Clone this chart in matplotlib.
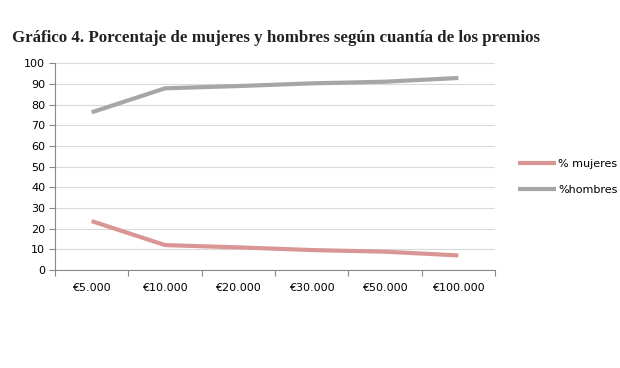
import numpy as np
import matplotlib.pyplot as plt

# datos del gráfico
categorias = ['€5.000', '€10.000', '€20.000', '€30.000', '€50.000', '€100.000']
mujeres = [23.7, 12.1, 11.0, 9.7, 8.9, 7.1]
hombres = [76.3, 87.9, 89.0, 90.3, 91.1, 92.9]

fig = plt.figure(figsize=(6.2, 3.68), dpi=100)
ax = fig.add_axes([0.0887, 0.266, 0.7097, 0.562])

x = np.arange(len(categorias))
ax.plot(x, mujeres, color='#D99694', lw=3, solid_capstyle='butt', label='% mujeres')
ax.plot(x, hombres, color='#A6A6A6', lw=3, solid_capstyle='butt', label='%hombres')

ax.set_xlim(-0.5, len(categorias) - 0.5)
ax.set_ylim(0, 100)
ax.set_yticks(np.arange(0, 101, 10))
ax.yaxis.grid(True, color='#D9D9D9', lw=0.8)
ax.set_axisbelow(True)

# ticks del eje x entre categorias, etiquetas centradas
ax.set_xticks(np.arange(-0.5, len(categorias), 1))
ax.set_xticklabels([])
ax.set_xticks(x, minor=True)
ax.set_xticklabels(categorias, minor=True)
ax.tick_params(axis='x', which='minor', length=0, pad=9)
ax.tick_params(axis='x', which='major', length=4, color='#888888')
ax.tick_params(axis='y', length=4, color='#888888', pad=3)
ax.tick_params(which='both', labelsize=8)

for s in ['top', 'right']:
    ax.spines[s].set_visible(False)
for s in ['left', 'bottom']:
    ax.spines[s].set_color('#888888')

ax.legend(loc='center left', bbox_to_anchor=(1.03, 0.45), frameon=False,
          fontsize=8, handlelength=3.4, handletextpad=0.2, labelspacing=1.5)

fig.text(0.019, 0.897, 'Gráfico 4. Porcentaje de mujeres y hombres según cuantía de los premios',
         family='Liberation Serif', weight='bold', fontsize=12.15, va='center', color='#222222')

fig.savefig('out.png', dpi=100)
